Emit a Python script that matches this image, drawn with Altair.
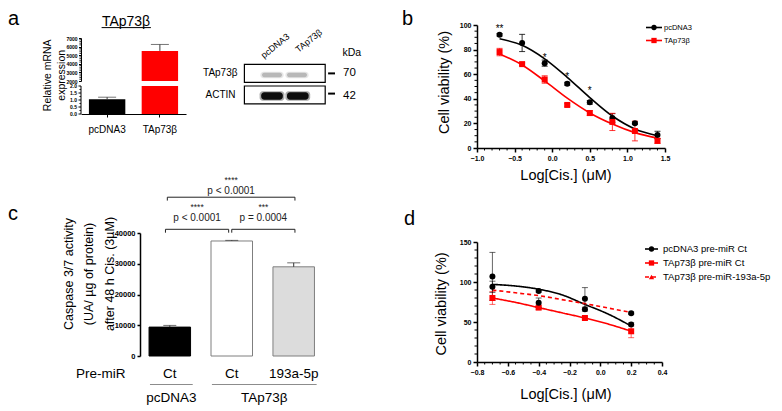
import altair as alt
import pandas as pd

FONT = "Liberation Sans"
BLACK = "#000000"
RED = "#ff0000"

# ===================== data =====================
# panel a : relative mRNA expression (broken axis)
a_groups = ["pcDNA3", "TAp73β"]
a_mean = [1.05, 5500]
a_err = [0.15, 750]
a_colors = [BLACK, RED]
a_upper_ticks = [2000, 3000, 4000, 5000, 6000, 7000]
a_lower_ticks = [0.0, 0.5, 1.0, 1.5, 2.0]

# western blot
blot_lanes = ["pcDNA3", "TAp73β"]
blot_rows = ["TAp73β", "ACTIN"]
blot_kda = ["70", "42"]
blot_band_colors = ["#b8b8b8", "#0d0d0d"]

# panel b : dose response
b_series = ["pcDNA3", "TAp73β"]
b_x = [-0.7, -0.4, -0.1, 0.2, 0.5, 0.8, 1.1, 1.4]
b_pc = [92.0, 85.4, 69.0, 52.2, 37.1, 24.4, 20.2, 10.6]
b_pc_err = [1.0, 7.0, 2.5, 1.2, 1.5, 3.5, 1.0, 3.0]
b_tap = [78.0, 68.2, 55.7, 35.0, 28.4, 21.2, 13.8, 5.8]
b_tap_err = [3.0, 1.0, 3.0, 1.0, 2.0, 7.0, 8.0, 2.0]
b_fit_pc = [88.8, 83.5, 72.5, 57.5, 41.0, 26.0, 15.5, 10.0]
b_fit_tap = [76.5, 67.5, 54.5, 40.5, 28.5, 19.5, 12.5, 8.0]
b_star_x = [-0.7, -0.1, 0.2, 0.5]
b_star_y = [97, 73, 58, 46]
b_star_text = ["**", "*", "*", "*"]

# panel c : caspase 3/7 activity
c_premir = ["Ct", "Ct", "193a-5p"]
c_vector = ["pcDNA3", "TAp73β", "TAp73β"]
c_mean = [9400, 37400, 29000]
c_err = [550, 200, 1300]
c_fill = ["#000000", "#ffffff", "#dcdcdc"]
c_stroke = ["#000000", "#7f7f7f", "#7f7f7f"]
c_br_x1 = [-0.07, 1.0, -0.04]
c_br_x2 = [0.95, 2.02, 2.02]
c_br_y = [41200, 41200, 51640]
c_br_star_y = [48300, 48300, 57100]
c_br_p_y = [44750, 44750, 53760]
c_br_stars = ["****", "***", "****"]
c_br_p = ["p < 0.0001", "p = 0.0004", "p < 0.0001"]

# panel d : dose response with pre-miR
d_series = ["pcDNA3 pre-miR Ct", "TAp73β pre-miR Ct", "TAp73β pre-miR-193a-5p"]
d_x = [-0.7, -0.4, -0.1, 0.2]
d_pc = [107, 88.8, 66, 47]
d_pc_err = [30, 1.5, 2.5, 2]
d_tap = [80, 68, 55, 38.4]
d_tap_err = [8, 2, 1.5, 8]
d_mir = [94, 74, 79, 61]
d_mir_err = [7, 6, 14, 1.5]
d_fit_x = [-0.7, -0.55, -0.4, -0.25, -0.1, 0.05, 0.2]
d_fit_pc = [97, 95, 91, 84, 72, 60, 45]
d_fit_tap = [80, 74.5, 68, 61.5, 55, 47.5, 38.5]
d_fit_mir = [90, 86.5, 83, 78, 73, 67.5, 62]

# ===================== helpers =====================
one = pd.DataFrame({"k": [0]})


def label(txt, x, y, size, **kw):
    return alt.Chart(one).mark_text(text=txt, font=FONT, fontSize=size, color=BLACK, **kw).encode(
        x=alt.value(x), y=alt.value(y))


def hline(x1, x2, y, w=1.0, color=BLACK, dash=None):
    kw = {"strokeDash": dash} if dash else {}
    return alt.Chart(one).mark_rule(color=color, strokeWidth=w, **kw).encode(
        x=alt.value(x1), x2=alt.value(x2), y=alt.value(y))


def ax(values, fmt, size, tick=4, pad=2, **kw):
    base = dict(values=values, format=fmt, labelFont=FONT, labelFontSize=size, labelFontWeight="bold",
                labelColor=BLACK, domainColor=BLACK, domainWidth=1.5, tickColor=BLACK, tickWidth=1.5,
                tickSize=tick, labelPadding=pad, grid=False, title=None, labelFlush=False,
                labelOverlap=False)
    base.update(kw)
    return alt.Axis(**base)


def title_kw(text, **kw):
    d = dict(title=text, titleFont=FONT, titleFontSize=14.5, titleFontWeight="normal",
             titleColor=BLACK, titleBaseline="middle")
    d.update(kw)
    return d


def spacer(w, h):
    return alt.Chart(one).mark_point(opacity=0, size=0).properties(width=w, height=h)


# ===================== panel a =====================
a_df = pd.DataFrame({"g": a_groups, "m": a_mean, "e": a_err, "col": a_colors})
a_df["hi"] = a_df["m"] + a_df["e"]
A_BREAK = a_lower_ticks[-1]
a_up_df = a_df[a_df["m"] > A_BREAK].assign(base=a_upper_ticks[0])
a_lo_df = a_df.assign(base=0.0, top=a_df["m"].clip(upper=A_BREAK))
a_lo_err = a_df[a_df["m"] <= A_BREAK]

xa_sc = alt.Scale(domain=a_groups, range=[0, 105], paddingInner=0.31, paddingOuter=0.15)
ya_up_sc = alt.Scale(domain=[a_upper_ticks[0], a_upper_ticks[-1]], range=[56, 13], nice=False, zero=False)
ya_lo_sc = alt.Scale(domain=[a_lower_ticks[0], a_lower_ticks[-1]], range=[89, 61], nice=False, zero=False)
a_up_minor = pd.DataFrame({"v": [v for v in range(2200, 7000, 200) if v % 1000]})
a_lo_minor = pd.DataFrame({"v": [0.25, 0.75, 1.25, 1.75]})
a_lo_tick_df = pd.DataFrame({"v": a_lower_ticks, "t": [f"{v:.1f}" for v in a_lower_ticks]})
a_lo_dom = pd.DataFrame({"y0": [a_lower_ticks[0]], "y1": [a_lower_ticks[-1]]})

a_x_axis = alt.Axis(title=None, labelFont=FONT, labelFontSize=10, labelColor=BLACK, labelAngle=0,
                    labelPadding=7, tickSize=3, tickWidth=1, tickColor=BLACK, domainColor=BLACK,
                    domainWidth=1.2, grid=False)
a_up_axis = ax(a_upper_ticks, "d", 5, tick=2.5, pad=1.5, domainWidth=1, tickWidth=1, orient="left")


def XA():
    return alt.X("g:N", scale=xa_sc, sort=a_groups, axis=a_x_axis)


def YU(f):
    return alt.Y(f, scale=ya_up_sc, axis=a_up_axis)


def YL(f):
    return alt.Y(f, scale=ya_lo_sc, axis=None)


ERR_A = "#3a3a3a"
a_upper = alt.layer(
    alt.Chart(a_up_df).mark_bar().encode(x=XA(), y=YU("base:Q"), y2="m:Q",
                                         color=alt.Color("col:N", scale=None)),
    alt.Chart(a_up_df).mark_rule(color=ERR_A, strokeWidth=1).encode(x=XA(), y=YU("m:Q"), y2="hi:Q"),
    alt.Chart(a_up_df).mark_tick(orient="horizontal", size=18, thickness=1, color=ERR_A).encode(
        x=XA(), y=YU("hi:Q")),
    alt.Chart(a_up_minor).mark_rule(color=BLACK, strokeWidth=0.8).encode(
        y=YU("v:Q"), x=alt.value(0), x2=alt.value(-1.6)),
)
a_lower = alt.layer(
    alt.Chart(a_lo_df).mark_bar().encode(x=XA(), y=YL("base:Q"), y2="top:Q",
                                         color=alt.Color("col:N", scale=None)),
    alt.Chart(a_lo_err).mark_rule(color=ERR_A, strokeWidth=1).encode(x=XA(), y=YL("m:Q"), y2="hi:Q"),
    alt.Chart(a_lo_err).mark_tick(orient="horizontal", size=18, thickness=1, color=ERR_A).encode(
        x=XA(), y=YL("hi:Q")),
    # lower segment of the broken y axis, drawn through the lower scale
    alt.Chart(a_lo_dom).mark_rule(color=BLACK, strokeWidth=1).encode(
        x=alt.value(0), y=YL("y0:Q"), y2="y1:Q"),
    alt.Chart(a_lo_tick_df).mark_rule(color=BLACK, strokeWidth=1).encode(
        y=YL("v:Q"), x=alt.value(0), x2=alt.value(-2.5)),
    alt.Chart(a_lo_minor).mark_rule(color=BLACK, strokeWidth=0.8).encode(
        y=YL("v:Q"), x=alt.value(0), x2=alt.value(-1.6)),
    alt.Chart(a_lo_tick_df).mark_text(font=FONT, fontSize=5, fontWeight="bold", align="right",
                                      color=BLACK).encode(y=YL("v:Q"), x=alt.value(-4), text="t:N"),
)
a_chart = alt.layer(
    a_upper, a_lower,
    label("a", -73, -0.4, 20, align="left", baseline="alphabetic"),
    label("TAp73β", 45, 0.6, 14, baseline="alphabetic"),
    hline(20.6, 69.9, 2.6),
    label(["Relative mRNA", "expression"], -33, 50.3, 10.5, angle=270, lineHeight=14),
).resolve_scale(y="independent").properties(width=49, height=89)

# ===================== western blot =====================
BW, BH = 271, 123
bsx = alt.Scale(domain=[0, BW], range=[-139, 132], nice=False, zero=False)
bsy = alt.Scale(domain=[0, BH], nice=False, zero=False, reverse=True)
lane_cx = [76.0, 101.0]
row_top = [39.3, 61.0]
row_bot = [57.4, 78.9]
band_cy = [50.0, 71.0]
band_hh = [2.2, 3.8]
band_hw = [10.0, 10.8]

boxes = pd.DataFrame({"row": blot_rows, "x0": 48.4, "x1": 129.2, "y0": row_top, "y1": row_bot})
band_recs = []
for r, row in enumerate(blot_rows):
    for l, lane in enumerate(blot_lanes):
        cx = lane_cx[l] + (0.8 * l if r == 1 else 0)
        for grow, op in [(1.6, 0.35), (0.0, 1.0)]:
            band_recs.append({"row": row, "lane": lane, "c": blot_band_colors[r], "op": op,
                              "x0": cx - band_hw[r] - grow, "x1": cx + band_hw[r] + grow,
                              "y0": band_cy[r] - band_hh[r] - grow * 0.6,
                              "y1": band_cy[r] + band_hh[r] + grow * 0.6})
bands = pd.DataFrame(band_recs)
row_lab = pd.DataFrame({"t": blot_rows, "x": [41.5, 39.5],
                        "y": [(row_top[i] + row_bot[i]) / 2 for i in range(2)]})
lane_lab = pd.DataFrame({"t": blot_lanes, "x": [68.1, 102.6], "y": [33.8, 27.9]})
kda = pd.DataFrame({"t": blot_kda, "x0": 132.1, "x1": 139.0, "yd": [48.4, 68.6], "tx": 147.0,
                    "ty": [48.4, 70.8]})
kda_head = pd.DataFrame({"t": ["kDa"], "x": [155.8], "y": [27.9]})


def bx(f):
    return alt.X(f, scale=bsx, axis=None)


def by(f):
    return alt.Y(f, scale=bsy, axis=None)


blot = alt.layer(
    alt.Chart(boxes).mark_rect(fill="white", stroke=BLACK, strokeWidth=1.2).encode(
        x=bx("x0:Q"), x2="x1:Q", y=by("y0:Q"), y2="y1:Q"),
    alt.Chart(bands).mark_rect(cornerRadius=3).encode(
        x=bx("x0:Q"), x2="x1:Q", y=by("y0:Q"), y2="y1:Q",
        color=alt.Color("c:N", scale=None), opacity=alt.Opacity("op:Q", scale=None)),
    alt.Chart(row_lab).mark_text(font=FONT, fontSize=10, align="right", color=BLACK).encode(
        x=bx("x:Q"), y=by("y:Q"), text="t:N"),
    alt.Chart(lane_lab).mark_text(font=FONT, fontSize=9, align="left", baseline="alphabetic",
                                  angle=321, color=BLACK).encode(x=bx("x:Q"), y=by("y:Q"), text="t:N"),
    alt.Chart(kda).mark_rule(color=BLACK, strokeWidth=2).encode(x=bx("x0:Q"), x2="x1:Q", y=by("yd:Q")),
    alt.Chart(kda).mark_text(font=FONT, fontSize=11.5, align="left", color=BLACK).encode(
        x=bx("tx:Q"), y=by("ty:Q"), text="t:N"),
    alt.Chart(kda_head).mark_text(font=FONT, fontSize=10.5, color=BLACK).encode(
        x=bx("x:Q"), y=by("y:Q"), text="t:N"),
).properties(width=132, height=BH)

# ===================== panel b =====================
BWID, BHEI = 188, 123
xb_sc = alt.Scale(domain=[-1.0, 1.5], nice=False, zero=False)
yb_sc = alt.Scale(domain=[0, 100], nice=False, zero=False)
cb_sc = alt.Scale(domain=b_series, range=[BLACK, RED])
sb_sc = alt.Scale(domain=b_series, range=["circle", "square"])
n_b = len(b_x)
b_pts = pd.DataFrame({"s": [b_series[0]] * n_b + [b_series[1]] * n_b, "x": b_x + b_x,
                      "y": b_pc + b_tap, "e": b_pc_err + b_tap_err})
b_pts["lo"] = b_pts["y"] - b_pts["e"]
b_pts["hi"] = b_pts["y"] + b_pts["e"]
b_fit = pd.DataFrame({"s": [b_series[0]] * n_b + [b_series[1]] * n_b, "x": b_x + b_x,
                      "f": b_fit_pc + b_fit_tap})
b_stars = pd.DataFrame({"x": b_star_x, "y": b_star_y, "t": b_star_text})
b_minor_x = pd.DataFrame({"v": [round(-1 + 0.1 * i, 2) for i in range(26) if i % 5]})
b_minor_y = pd.DataFrame({"v": [5 * i for i in range(21) if i % 4]})

bx_axis = ax([-1.0, -0.5, 0.0, 0.5, 1.0, 1.5], ".1f", 7, tick=4, pad=2,
             **title_kw("Log[Cis.] (μM)", titleX=88.5, titleY=27.3))
by_axis = ax([0, 20, 40, 60, 80, 100], "d", 7, tick=4, pad=2,
             **title_kw("Cell viability (%)", titleX=-32.5, titleY=57, titleAngle=270))
col_b = alt.Color("s:N", scale=cb_sc, legend=None)


def XB(f):
    return alt.X(f, scale=xb_sc, axis=bx_axis)


def YB(f):
    return alt.Y(f, scale=yb_sc, axis=by_axis)


b_layers = []
for i, s in enumerate(b_series):
    b_layers.append(alt.Chart(b_fit[b_fit["s"] == s]).mark_line(
        interpolate="monotone", strokeWidth=1.6, color=[BLACK, RED][i]).encode(x=XB("x:Q"), y=YB("f:Q")))
b_layers += [
    alt.Chart(b_pts).mark_rule(strokeWidth=1, opacity=0.8).encode(
        x=XB("x:Q"), y=YB("lo:Q"), y2="hi:Q", color=col_b),
    alt.Chart(b_pts).transform_fold(["lo", "hi"], as_=["k", "v"]).mark_tick(
        orient="horizontal", size=6, thickness=1, opacity=0.8).encode(
        x=XB("x:Q"), y=YB("v:Q"), color=col_b),
    alt.Chart(b_pts).mark_point(filled=True, size=36, opacity=1).encode(
        x=XB("x:Q"), y=YB("y:Q"), color=col_b,
        shape=alt.Shape("s:N", scale=sb_sc, legend=None)),
    alt.Chart(b_stars).mark_text(font=FONT, fontSize=10, color=BLACK).encode(
        x=XB("x:Q"), y=YB("y:Q"), text="t:N"),
    alt.Chart(b_minor_x).mark_rule(color=BLACK, strokeWidth=1).encode(
        x=XB("v:Q"), y=alt.value(BHEI), y2=alt.value(BHEI + 2.5)),
    alt.Chart(b_minor_y).mark_rule(color=BLACK, strokeWidth=1).encode(
        y=YB("v:Q"), x=alt.value(0), x2=alt.value(-2.5)),
    label("b", -75, -0.4, 20, align="left", baseline="alphabetic"),
]
for i, s in enumerate(b_series):
    ly = 2.5 + 13 * i
    col = [BLACK, RED][i]
    b_layers.append(hline(169, 185, ly, w=1.6, color=col))
    b_layers.append(alt.Chart(one).mark_point(filled=True, size=28, opacity=1, color=col,
                                              shape=["circle", "square"][i]).encode(
        x=alt.value(177), y=alt.value(ly)))
    b_layers.append(label(s, 187, ly, 7.5, align="left"))
b_chart = alt.layer(*b_layers).properties(width=BWID, height=BHEI)

# ===================== panel c =====================
CW, CH = 185, 123
HALF = 0.335
c_idx = list(range(len(c_premir)))
c_df = pd.DataFrame({"i": c_idx, "m": c_mean, "e": c_err, "fill": c_fill, "stroke": c_stroke,
                     "lab": c_premir, "base": 0})
c_df["x0"] = c_df["i"] - HALF
c_df["x1"] = c_df["i"] + HALF
c_df["hi"] = c_df["m"] + c_df["e"]
xc_sc = alt.Scale(domain=[-0.481, 2.505], nice=False, zero=False)
yc_sc = alt.Scale(domain=[0, 40000], nice=False, zero=False)
cy_axis = ax([0, 10000, 20000, 30000, 40000], "d", 7.5, tick=3, pad=2)


def XC(f):
    return alt.X(f, scale=xc_sc, axis=None)


def YC(f):
    return alt.Y(f, scale=yc_sc, axis=cy_axis)


seg = []
for k in range(len(c_br_y)):
    x1, x2, yb_, yd = c_br_x1[k], c_br_x2[k], c_br_y[k], c_br_y[k] - 1100
    seg += [(x1, x2, yb_, yb_), (x1, x1, yb_, yd), (x2, x2, yb_, yd)]
c_seg = pd.DataFrame(seg, columns=["xa", "xb", "ya", "yb"])
c_brt = pd.DataFrame({"x": [(c_br_x1[k] + c_br_x2[k]) / 2 for k in range(len(c_br_y))],
                      "ys": c_br_star_y, "yp": c_br_p_y, "s": c_br_stars, "p": c_br_p})
groups = list(dict.fromkeys(c_vector))
g_lo = [min(i for i in c_idx if c_vector[i] == g) - 0.32 for g in groups]
g_hi = [max(i for i in c_idx if c_vector[i] == g) + 0.37 for g in groups]
c_grp = pd.DataFrame({"g": groups, "x0": g_lo, "x1": g_hi,
                      "xm": [(g_lo[j] + g_hi[j]) / 2 for j in range(len(groups))]})

C_LAB_Y, C_LINE_Y, C_GRP_Y = 141, 151.5, 165
c_chart = alt.layer(
    alt.Chart(c_df).mark_rect(strokeWidth=1).encode(
        x=XC("x0:Q"), x2="x1:Q", y=YC("base:Q"), y2="m:Q",
        fill=alt.Fill("fill:N", scale=None), stroke=alt.Stroke("stroke:N", scale=None)),
    alt.Chart(c_df).mark_rule(color="#333333", strokeWidth=1).encode(
        x=XC("i:Q"), y=YC("m:Q"), y2="hi:Q"),
    alt.Chart(c_df).mark_tick(orient="horizontal", size=13, thickness=1, color="#333333").encode(
        x=XC("i:Q"), y=YC("hi:Q")),
    alt.Chart(c_seg).mark_rule(color="#222222", strokeWidth=1).encode(
        x=XC("xa:Q"), x2="xb:Q", y=YC("ya:Q"), y2="yb:Q"),
    alt.Chart(c_brt).mark_text(font=FONT, fontSize=8.5, color="#222222").encode(
        x=XC("x:Q"), y=YC("ys:Q"), text="s:N"),
    alt.Chart(c_brt).mark_text(font=FONT, fontSize=10, color="#222222").encode(
        x=XC("x:Q"), y=YC("yp:Q"), text="p:N"),
    alt.Chart(c_df).mark_text(font=FONT, fontSize=13.5, color=BLACK).encode(
        x=XC("i:Q"), y=alt.value(C_LAB_Y), text="lab:N"),
    alt.Chart(c_grp).mark_rule(color="#8c8c8c", strokeWidth=1).encode(
        x=XC("x0:Q"), x2="x1:Q", y=alt.value(C_LINE_Y)),
    alt.Chart(c_grp).mark_text(font=FONT, fontSize=13.5, color=BLACK).encode(
        x=XC("xm:Q"), y=alt.value(C_GRP_Y), text="g:N"),
    label("Pre-miR", -64, C_LAB_Y, 13.5, align="left"),
    label("c", -132, -13.4, 20, align="left", baseline="alphabetic"),
    label(["Caspase 3/7 activity", "(UA/ µg of protein)", "after 48 h Cis. (3µM)"], -71.2, 41, 12.5,
          angle=270, lineHeight=20.7),
).properties(width=CW, height=CH)

# ===================== panel d =====================
DOFF = 9
DW, DH = 185, 120 + DOFF
xd_sc = alt.Scale(domain=[-0.8, 0.4], nice=False, zero=False)
yd_sc = alt.Scale(domain=[0, 150], range=[DH, DOFF], nice=False, zero=False)
d_cols = [BLACK, RED, RED]
d_shapes = ["circle", "square", "triangle-up"]
d_dashes = [[1, 0], [1, 0], [4, 3]]
cd_sc = alt.Scale(domain=d_series, range=d_cols)
sd_sc = alt.Scale(domain=d_series, range=d_shapes)
n_d = len(d_x)
n_f = len(d_fit_x)
d_pts = pd.DataFrame({"s": [d_series[0]] * n_d + [d_series[1]] * n_d + [d_series[2]] * n_d,
                      "x": d_x * 3, "y": d_pc + d_tap + d_mir, "e": d_pc_err + d_tap_err + d_mir_err})
d_pts["lo"] = d_pts["y"] - d_pts["e"]
d_pts["hi"] = d_pts["y"] + d_pts["e"]
d_fit = pd.DataFrame({"s": [d_series[0]] * n_f + [d_series[1]] * n_f + [d_series[2]] * n_f,
                      "x": d_fit_x * 3, "f": d_fit_pc + d_fit_tap + d_fit_mir})
d_minor_x = pd.DataFrame({"v": [round(-0.8 + 0.05 * i, 3) for i in range(25) if i % 4]})
d_minor_y = pd.DataFrame({"v": [10 * i for i in range(16) if i % 5]})

dx_axis = ax([-0.8, -0.6, -0.4, -0.2, 0.0, 0.2, 0.4], ".1f", 7, tick=4, pad=2,
             **title_kw("Log[Cis.] (μM)", titleX=88.5, titleY=32.2))
dy_axis = ax([0, 50, 100, 150], "d", 7, tick=4, pad=2,
             **title_kw("Cell viability (%)", titleX=-35.5, titleY=61.4 + DOFF, titleAngle=270))
col_d = alt.Color("s:N", scale=cd_sc, legend=None)


def XD(f):
    return alt.X(f, scale=xd_sc, axis=dx_axis)


def YD(f):
    return alt.Y(f, scale=yd_sc, axis=dy_axis)


d_layers = []
for i, s in enumerate(d_series):
    d_layers.append(alt.Chart(d_fit[d_fit["s"] == s]).mark_line(
        interpolate="monotone", strokeWidth=1.6, color=d_cols[i], strokeDash=d_dashes[i]).encode(
        x=XD("x:Q"), y=YD("f:Q")))
d_layers += [
    alt.Chart(d_pts).mark_rule(strokeWidth=1, opacity=0.6).encode(
        x=XD("x:Q"), y=YD("lo:Q"), y2="hi:Q", color=col_d),
    alt.Chart(d_pts).transform_fold(["lo", "hi"], as_=["k", "v"]).mark_tick(
        orient="horizontal", size=6, thickness=1, opacity=0.6).encode(
        x=XD("x:Q"), y=YD("v:Q"), color=col_d),
    alt.Chart(d_pts).mark_point(filled=True, size=36, opacity=1).encode(
        x=XD("x:Q"), y=YD("y:Q"), color=col_d,
        shape=alt.Shape("s:N", scale=sd_sc, legend=None)),
    alt.Chart(d_minor_x).mark_rule(color=BLACK, strokeWidth=1).encode(
        x=XD("v:Q"), y=alt.value(DH), y2=alt.value(DH + 2.5)),
    alt.Chart(d_minor_y).mark_rule(color=BLACK, strokeWidth=1).encode(
        y=YD("v:Q"), x=alt.value(0), x2=alt.value(-2.5)),
    label("d", -73, -17.5 + DOFF, 20, align="left", baseline="alphabetic"),
]
for i, s in enumerate(d_series):
    ly = 7 + DOFF + 14 * i
    d_layers.append(hline(168, 181, ly, w=1.6, color=d_cols[i], dash=d_dashes[i] if i == 2 else None))
    d_layers.append(alt.Chart(one).mark_point(filled=True, size=28, opacity=1, color=d_cols[i],
                                              shape=d_shapes[i]).encode(x=alt.value(174.5), y=alt.value(ly)))
    d_layers.append(label(s, 186, ly, 9.5, align="left"))
d_chart = alt.layer(*d_layers).properties(width=DW, height=DH)

# ===================== layout =====================
cells = [
    a_chart, spacer(185, 1), blot, b_chart,
    spacer(49, 1), c_chart, spacer(132, 1), d_chart,
]
chart = alt.concat(*cells, columns=4, align="each", bounds="flush",
                   spacing={"row": 85, "column": 10}).properties(padding=0).configure(
    font=FONT, view=alt.ViewConfig(stroke=None))

chart.save("out.html", embed_options={"renderer": "svg", "actions": False})
